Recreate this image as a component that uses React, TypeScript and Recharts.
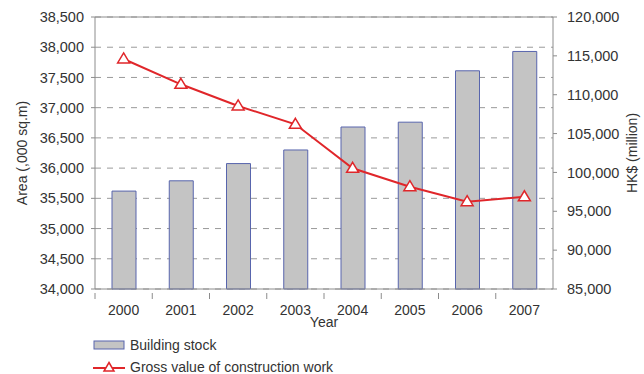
import {
  ComposedChart,
  Bar,
  Line,
  XAxis,
  YAxis,
  CartesianGrid,
  Legend,
  ReferenceLine,
} from "recharts";

const years = ["2000", "2001", "2002", "2003", "2004", "2005", "2006", "2007"];
const buildingStock = [35620, 35790, 36075, 36300, 36680, 36760, 37610, 37930];
const grossValue = [114600, 111340, 108550, 106190, 100530, 98160, 96230, 96870];
const leftTicks = [34000, 34500, 35000, 35500, 36000, 36500, 37000, 37500, 38000, 38500];
const rightTicks = [85000, 90000, 95000, 100000, 105000, 110000, 115000, 120000];

const data = years.map((year, i) => ({
  year,
  stock: buildingStock[i],
  gross: grossValue[i],
}));

const FONT = "'Liberation Sans', Arial, sans-serif";
const RED = "#e0262a";
const BAR_FILL = "#c4c4c4";
const BAR_STROKE = "#5865ad";
const AXIS = "#8c8c8c";

const fmt = (v: number) => v.toLocaleString("en-US");

// triangle marker used for the line points
const Triangle = (props: any) => {
  const { cx, cy } = props;
  if (cx == null || cy == null) return null;
  return (
    <path
      d={`M${cx},${cy - 6} L${cx + 6},${cy + 4} L${cx - 6},${cy + 4} Z`}
      fill="#fff"
      stroke={RED}
      strokeWidth={1.5}
    />
  );
};

const YearTick = (props: any) => {
  const { x, y, payload } = props;
  const half = payload.offset || 0;
  return (
    <g>
      <line x1={x - half} y1={y - 4} x2={x - half} y2={y + 2} stroke={AXIS} />
      <text
        x={x}
        y={y + 18}
        textAnchor="middle"
        fontSize={14}
        fontFamily={FONT}
        fill="#333"
      >
        {payload.value}
      </text>
    </g>
  );
};

const LegendBox = () => (
  <div
    style={{
      fontFamily: FONT,
      fontSize: 14,
      color: "#333",
      paddingLeft: 93,
      paddingTop: 4,
    }}
  >
    <div style={{ display: "flex", alignItems: "center", height: 22 }}>
      <svg width={32} height={12}>
        <rect x={1} y={2} width={30} height={8} fill={BAR_FILL} stroke={BAR_STROKE} />
      </svg>
      <span style={{ marginLeft: 5 }}>Building stock</span>
    </div>
    <div style={{ display: "flex", alignItems: "center", height: 22 }}>
      <svg width={32} height={14}>
        <line x1={0} y1={8} x2={32} y2={8} stroke={RED} strokeWidth={2} />
        <path d="M16,2.5 L21,11 L11,11 Z" fill="#fff" stroke={RED} strokeWidth={1.5} />
      </svg>
      <span style={{ marginLeft: 5 }}>Gross value of construction work</span>
    </div>
  </div>
);

export default function App() {
  return (
    <div style={{ position: "absolute", left: 0, top: 0, background: "#fff" }}>
      <ComposedChart
        width={644}
        height={374}
        data={data}
        margin={{ top: 17, right: 0, bottom: 0, left: 0 }}
        barSize={24}
      >
        <CartesianGrid
          vertical={false}
          stroke="#9a9a9a"
          strokeDasharray="6 6"
          yAxisId="left"
        />
        <XAxis
          dataKey="year"
          height={41}
          stroke={AXIS}
          tickLine={false}
          tick={<YearTick />}
          interval={0}
          label={{
            value: "Year",
            position: "insideBottom",
            offset: 3,
            fontSize: 14,
            fontFamily: FONT,
            fill: "#333",
          }}
        />
        <YAxis
          yAxisId="left"
          width={95}
          domain={[34000, 38500]}
          ticks={leftTicks}
          interval={0}
          stroke={AXIS}
          tickSize={4}
          tickMargin={7}
          tickFormatter={fmt}
          tick={{ fontSize: 14.5, fontFamily: FONT, fill: "#333" }}
          label={{
            value: "Area (,000 sq.m)",
            angle: -90,
            position: "insideLeft",
            offset: 22,
            style: { textAnchor: "middle" },
            fontSize: 14,
            fontFamily: FONT,
            fill: "#333",
          }}
        />
        <YAxis
          yAxisId="right"
          orientation="right"
          width={91}
          domain={[85000, 120000]}
          ticks={rightTicks}
          interval={0}
          stroke={AXIS}
          tickSize={4}
          tickMargin={10}
          tickFormatter={fmt}
          tick={{ fontSize: 14.5, fontFamily: FONT, fill: "#333" }}
          label={{
            value: "HK$ (million)",
            angle: -90,
            position: "insideRight",
            offset: 12,
            style: { textAnchor: "middle" },
            fontSize: 14,
            fontFamily: FONT,
            fill: "#333",
          }}
        />
        <ReferenceLine yAxisId="left" y={38500} stroke={AXIS} ifOverflow="visible" />
        <Legend verticalAlign="bottom" height={44} content={<LegendBox />} />
        <Bar
          yAxisId="left"
          dataKey="stock"
          name="Building stock"
          fill={BAR_FILL}
          stroke={BAR_STROKE}
          strokeWidth={1}
          isAnimationActive={false}
        />
        <Line
          yAxisId="right"
          dataKey="gross"
          name="Gross value of construction work"
          type="linear"
          stroke={RED}
          strokeWidth={2}
          dot={<Triangle />}
          activeDot={false}
          isAnimationActive={false}
        />
      </ComposedChart>
    </div>
  );
}
